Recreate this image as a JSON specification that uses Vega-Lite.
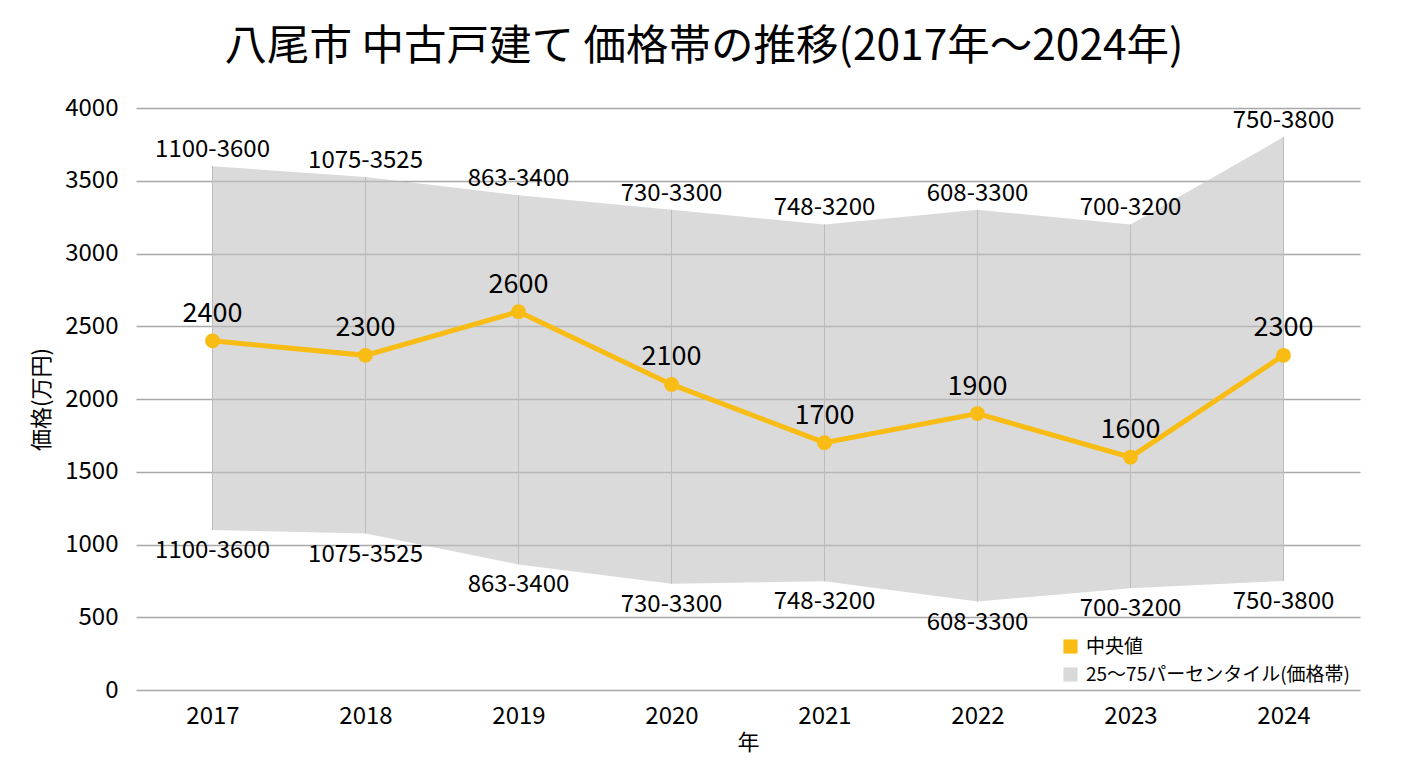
{
  "$schema": "https://vega.github.io/schema/vega-lite/v6.json",
  "autosize": {"type": "none"},
  "width": 1224,
  "height": 582,
  "padding": {"left": 136, "top": 108, "right": 48, "bottom": 78},
  "background": "#ffffff",
  "config": {
    "font": "Noto Sans CJK JP",
    "view": {"stroke": null},
    "axis": {"labelFont": "Noto Sans CJK JP", "titleFont": "Noto Sans CJK JP", "labelColor": "#000000", "titleColor": "#000000", "titleFontWeight": "normal"}
  },
  "title": {
    "text": "八尾市 中古戸建て 価格帯の推移(2017年～2024年)",
    "fontSize": 42.5,
    "fontWeight": "normal",
    "color": "#000000",
    "anchor": "middle",
    "dx": -44,
    "offset": 28
  },
  "data": {
    "values": [
      {"year": "2017", "median": 2400, "low": 1100, "high": 3600, "range": "1100-3600"},
      {"year": "2018", "median": 2300, "low": 1075, "high": 3525, "range": "1075-3525"},
      {"year": "2019", "median": 2600, "low": 863, "high": 3400, "range": "863-3400"},
      {"year": "2020", "median": 2100, "low": 730, "high": 3300, "range": "730-3300"},
      {"year": "2021", "median": 1700, "low": 748, "high": 3200, "range": "748-3200"},
      {"year": "2022", "median": 1900, "low": 608, "high": 3300, "range": "608-3300"},
      {"year": "2023", "median": 1600, "low": 700, "high": 3200, "range": "700-3200"},
      {"year": "2024", "median": 2300, "low": 750, "high": 3800, "range": "750-3800"}
    ]
  },
  "encoding": {
    "x": {
      "field": "year", "type": "ordinal",
      "scale": {"type": "point", "padding": 0.5},
      "axis": {"title": "年", "labelAngle": 0, "labelFontSize": 24, "titleFontSize": 22, "domain": false, "ticks": false, "labelPadding": 14, "titlePadding": 4, "grid": false}
    }
  },
  "layer": [
    {
      "mark": {"type": "area", "color": "#c2c2c2", "opacity": 0.6},
      "encoding": {
        "y": {"field": "high", "type": "quantitative", "scale": {"domain": [0, 4000]},
          "axis": {"title": "価格(万円)", "format": "d", "values": [0,500,1000,1500,2000,2500,3000,3500,4000], "labelFontSize": 24, "titleFontSize": 22, "domain": false, "ticks": false, "labelPadding": 18, "titlePadding": 11, "grid": true, "gridColor": "#a8a8a8", "gridWidth": 1.3}},
        "y2": {"field": "low"}
      }
    },
    {
      "mark": {"type": "rule", "color": "#bdbdbd", "strokeWidth": 1},
      "encoding": {"y": {"field": "low", "type": "quantitative"}, "y2": {"field": "high"}}
    },
    {
      "mark": {"type": "line", "color": "#F8BC14", "strokeWidth": 5},
      "encoding": {"y": {"field": "median", "type": "quantitative"}}
    },
    {
      "mark": {"type": "point", "filled": true, "opacity": 1, "size": 220, "shape": "circle"},
      "encoding": {
        "y": {"field": "median", "type": "quantitative"},
        "color": {"datum": "中央値", "type": "nominal",
          "scale": {"domain": ["中央値", "25～75パーセンタイル(価格帯)"], "range": ["#F8BC14", "#d9d9d9"]},
          "legend": {"title": null, "orient": "none", "legendX": 925, "legendY": 529, "symbolType": "square", "symbolSize": 200, "symbolStrokeWidth": 0, "symbolOpacity": 1, "labelFontSize": 19, "labelLimit": 400, "labelColor": "#000000", "rowPadding": 8, "labelOffset": 6}}
      }
    },
    {
      "mark": {"type": "text", "fontSize": 27, "baseline": "bottom", "dy": -13, "color": "#000000"},
      "encoding": {"y": {"field": "median", "type": "quantitative"}, "text": {"field": "median", "type": "quantitative"}}
    },
    {
      "mark": {"type": "text", "fontSize": 24, "baseline": "bottom", "dy": -4, "color": "#000000"},
      "encoding": {"y": {"field": "high", "type": "quantitative"}, "text": {"field": "range", "type": "nominal"}}
    },
    {
      "mark": {"type": "text", "fontSize": 24, "baseline": "top", "dy": 9, "color": "#000000"},
      "encoding": {"y": {"field": "low", "type": "quantitative"}, "text": {"field": "range", "type": "nominal"}}
    }
  ]
}
